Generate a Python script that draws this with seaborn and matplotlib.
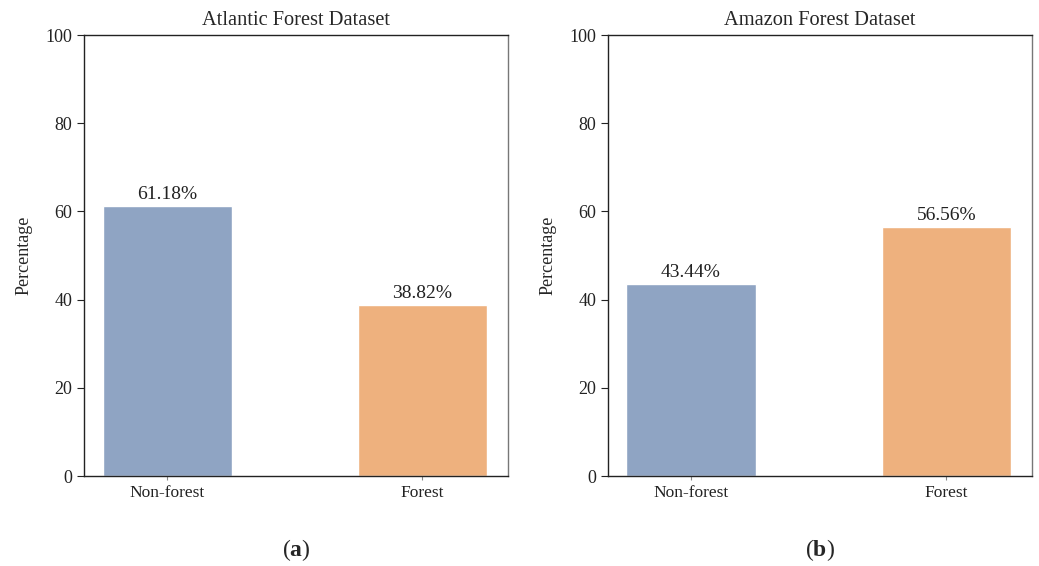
import pandas as pd
import seaborn as sns
import matplotlib.pyplot as plt

classes = ['Non-forest', 'Forest']
atlantic = [61.18, 38.82]
amazon = [43.44, 56.56]
titles = ['Atlantic Forest Dataset', 'Amazon Forest Dataset']
panel_tags = ['a', 'b']
colors = ['#8FA4C3', '#EEB17E']

sns.set_theme(style='white')
plt.rcParams['font.family'] = ['Liberation Serif', 'DejaVu Serif']
plt.rcParams['mathtext.fontset'] = 'custom'
plt.rcParams['mathtext.bf'] = 'Liberation Serif:bold'
plt.rcParams['mathtext.rm'] = 'Liberation Serif'

fig, axes = plt.subplots(1, 2, figsize=(10.39, 5.66), dpi=100)
fig.subplots_adjust(left=0.081, right=0.993, top=0.938, bottom=0.159, wspace=0.236)

for ax, values, title, tag in zip(axes, [atlantic, amazon], titles, panel_tags):
    df = pd.DataFrame({'cls': classes, 'pct': values})
    sns.barplot(data=df, x='cls', y='pct', hue='cls', palette=colors,
                width=0.506, legend=False, ax=ax, saturation=1)
    for i, v in enumerate(values):
        ax.text(i, v + 0.7, f'{v:.2f}%', ha='center', va='bottom',
                fontsize=14, color='#222222')
    ax.set_ylim(0, 100)
    ax.set_xlim(-0.325, 1.335)
    ax.set_yticks([0, 20, 40, 60, 80, 100])
    ax.set_title(title, fontsize=14.7, pad=7)
    ax.set_xlabel('')
    ax.set_ylabel('Percentage', fontsize=13, labelpad=9)
    ax.tick_params(axis='y', labelsize=13, colors='#222222', length=5,
                   width=0.8, left=True, pad=3.5)
    ax.tick_params(axis='x', labelsize=12.5, labelcolor='#222222', length=3,
                   width=0.8, color='#888888', bottom=True)
    for side, sp in ax.spines.items():
        sp.set_visible(True)
        sp.set_linewidth(1.0)
        sp.set_color('#222222')
    ax.spines['right'].set_color('#777777')
    pos = ax.get_position()
    fig.text((pos.x0 + pos.x1) / 2, 0.028, '(' + r'$\mathbf{' + tag + '}$' + ')',
             ha='center', va='center', fontsize=17)

fig.savefig('out.png', dpi=100, facecolor='white')
